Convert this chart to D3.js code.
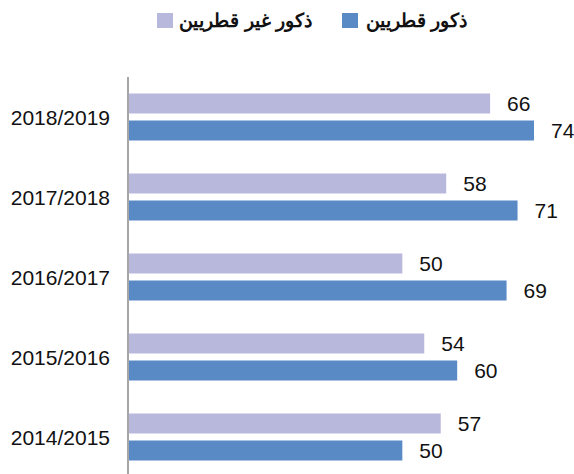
<!DOCTYPE html>
<html>
<head>
<meta charset="utf-8">
<script src="https://cdn.jsdelivr.net/npm/d3@7"></script>
<style>
  body { margin: 0; background: #fff; }
  svg { font-family: Arial, "Liberation Sans", sans-serif; }
</style>
</head>
<body>
<svg id="chart" width="574" height="474"></svg>
<script>
// data, top group first
const years = ["2018/2019", "2017/2018", "2016/2017", "2015/2016", "2014/2015"];
const nonQatari = [66, 58, 50, 54, 57];
const qatari = [74, 71, 69, 60, 50];
const seriesNames = ["ذكور غير قطريين", "ذكور قطريين"];
const colors = ["#b8b8dc", "#5a8ac6"];

const svg = d3.select("#chart");
const x0 = 128, plotTop = 77, plotBottom = 477;

const x = d3.scaleLinear().domain([0, 74]).range([x0, 534]);
const y = d3.scaleBand().domain(years).range([plotTop, plotBottom]);

const rows = years.map((yr, i) => ({ yr, vals: [nonQatari[i], qatari[i]] }));

const g = svg.append("g");
rows.forEach(r => {
  const c = y(r.yr) + y.bandwidth() / 2;
  r.vals.forEach((v, j) => {
    const top = j === 0 ? c - 23.5 : c + 3.5;
    g.append("rect")
      .attr("x", x(0))
      .attr("y", top)
      .attr("width", x(v) - x(0))
      .attr("height", 20)
      .attr("fill", colors[j]);
    g.append("text")
      .attr("x", x(v) + 17)
      .attr("y", top + 10)
      .attr("dy", "0.36em")
      .attr("font-size", 21)
      .attr("fill", "#111")
      .text(v);
  });
  g.append("text")
    .attr("x", 110)
    .attr("y", c)
    .attr("dy", "0.36em")
    .attr("text-anchor", "end")
    .attr("font-size", 21)
    .attr("fill", "#111")
    .text(r.yr);
});

// axis line
svg.append("line")
  .attr("x1", x0).attr("x2", x0)
  .attr("y1", plotTop).attr("y2", 474)
  .attr("stroke", "#a6a6a6").attr("stroke-width", 2);

// legend
const legend = [
  { name: seriesNames[0], color: colors[0], sx: 157, tx: 312 },
  { name: seriesNames[1], color: colors[1], sx: 342, tx: 467 }
];
legend.forEach(l => {
  svg.append("rect")
    .attr("x", l.sx).attr("y", 13)
    .attr("width", 16).attr("height", 15)
    .attr("fill", l.color);
  svg.append("text")
    .attr("x", l.tx).attr("y", 20)
    .attr("dy", "0.36em")
    .attr("text-anchor", "end")
    .attr("font-size", 19)
    .attr("font-weight", "bold")
    .attr("fill", "#111")
    .text(l.name);
});
</script>
</body>
</html>
